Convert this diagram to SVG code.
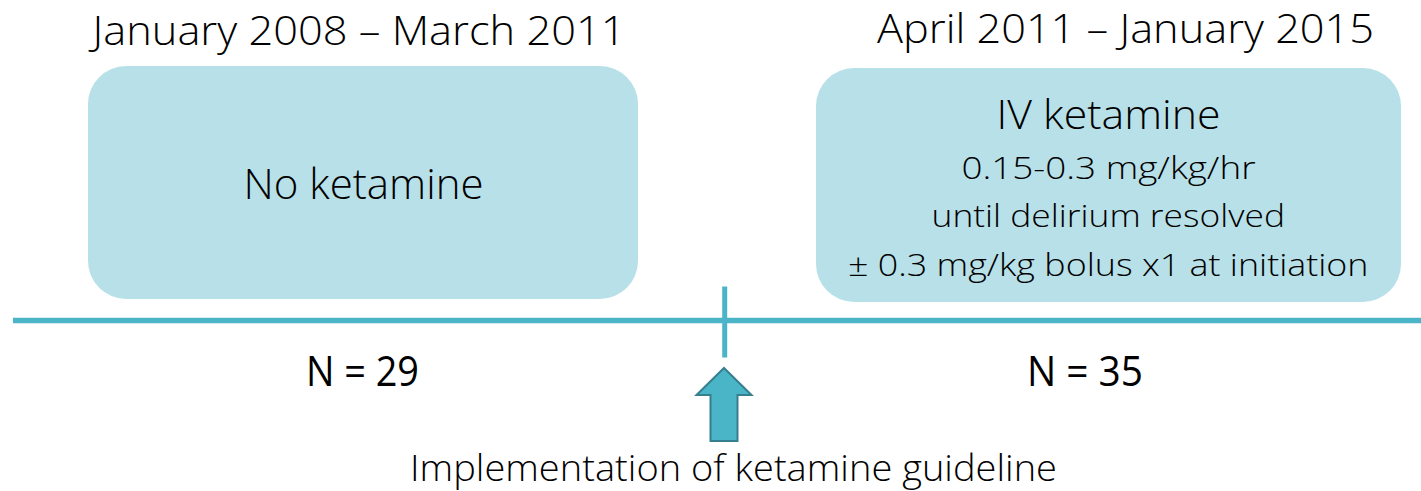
<svg xmlns="http://www.w3.org/2000/svg" width="1421" height="491" viewBox="0 0 1421 491">
  <style>
    .lt { font-family: "Open Sans", "Lato", "Liberation Sans", sans-serif; font-weight: 300; fill: #000; }
    .rg { font-family: "Open Sans", "Liberation Sans", sans-serif; font-weight: 400; fill: #000; }
    .box { fill: #B8E0E8; }
    .line { stroke: #4BB5C8; fill: none; }
  </style>
  <rect width="1421" height="491" fill="#FFFFFF"/>
  <g id="title-left">
    <text class="lt" x="92.5" y="45" font-size="41" textLength="533" lengthAdjust="spacingAndGlyphs">January 2008 – March 2011</text>
  </g>
  <g id="title-right">
    <text class="lt" x="877" y="42.5" font-size="40" textLength="497" lengthAdjust="spacingAndGlyphs">April 2011 – January 2015</text>
  </g>
  <g id="node-no-ketamine">
    <rect class="box" x="88" y="66" width="550" height="233" rx="38" ry="38"/>
    <text class="lt" x="243.5" y="199" font-size="43" textLength="240" lengthAdjust="spacingAndGlyphs">No ketamine</text>
  </g>
  <g id="node-iv-ketamine">
    <rect class="box" x="816" y="68" width="585" height="234" rx="38" ry="38"/>
    <text class="lt" x="996.5" y="129" font-size="41" textLength="224" lengthAdjust="spacingAndGlyphs">IV ketamine</text>
    <text class="lt" x="961.5" y="179" font-size="32" textLength="294" lengthAdjust="spacingAndGlyphs">0.15-0.3 mg/kg/hr</text>
    <text class="lt" x="931.5" y="227" font-size="32" textLength="353.5" lengthAdjust="spacingAndGlyphs">until delirium resolved</text>
    <text class="lt" x="848" y="276" font-size="32" textLength="520.5" lengthAdjust="spacingAndGlyphs">± 0.3 mg/kg bolus x1 at initiation</text>
  </g>
  <g id="connectors">
    <line class="line" x1="13" y1="320.5" x2="1421" y2="320.5" stroke-width="5.5"/>
    <line class="line" x1="724.7" y1="286.5" x2="724.7" y2="357.5" stroke-width="5"/>
  </g>
  <g id="label-n29">
    <text class="rg" x="306" y="386" font-size="42" textLength="113" lengthAdjust="spacingAndGlyphs">N = 29</text>
  </g>
  <g id="label-n35">
    <text class="rg" x="1027" y="386" font-size="42" textLength="116" lengthAdjust="spacingAndGlyphs">N = 35</text>
  </g>
  <g id="node-arrow">
    <polygon points="724,368 751.5,395 737.5,395 737.5,441 710.5,441 710.5,395 696.5,395" fill="#4BB5C8" stroke="#357F8E" stroke-width="2" stroke-linejoin="miter"/>
  </g>
  <g id="label-implementation">
    <text class="lt" x="410" y="481" font-size="37" textLength="647" lengthAdjust="spacingAndGlyphs">Implementation of ketamine guideline</text>
  </g>
</svg>
